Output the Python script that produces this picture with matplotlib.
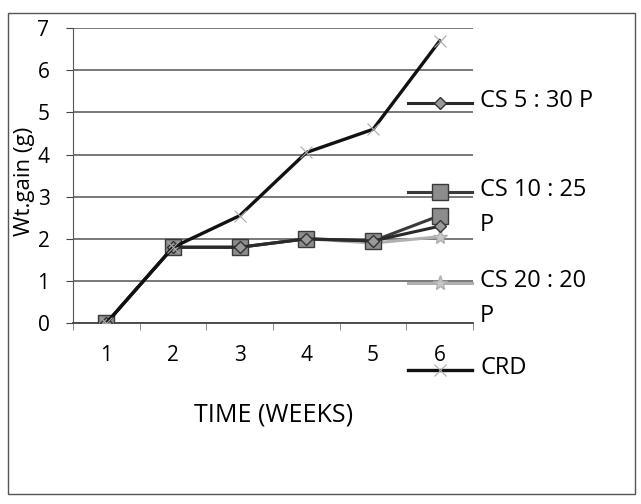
import matplotlib.pyplot as plt
from matplotlib.lines import Line2D
from matplotlib.patches import Rectangle

plt.rcParams['font.family'] = ['Open Sans', 'DejaVu Sans']

semanas = [1, 2, 3, 4, 5, 6]
etiquetas_x = ['1', '2', '3', '4', '5', '6']

cs5_30 = [0, 1.8, 1.8, 2.0, 1.95, 2.3]
cs10_25 = [0, 1.8, 1.8, 2.0, 1.95, 2.55]
cs20_20 = [0, 1.8, 1.8, 2.0, 1.9, 2.05]
crd = [0, 1.8, 2.55, 4.05, 4.6, 6.7]

nombres = ['CS 5 : 30 P', 'CS 10 : 25\nP', 'CS 20 : 20\nP', 'CRD']

fig = plt.figure(figsize=(6.41, 5.04), dpi=100)
ax = fig.add_axes([0.114, 0.359, 0.624, 0.585])

# estilos de cada serie
estilos = [
    dict(color='#2a2a2a', lw=2.2, marker='D', ms=6, mfc='#9a9a9a', mec='#333333', zorder=4),
    dict(color='#3a3a3a', lw=2.2, marker='s', ms=11, mfc='#8c8c8c', mec='#3a3a3a', zorder=3),
    dict(color='#b0b0b0', lw=2.2, marker='*', ms=11, mfc='#c8c8c8', mec='#b0b0b0', zorder=2),
    dict(color='#111111', lw=2.4, marker='x', ms=9, mec='#aaaaaa', mew=0.8, zorder=5),
]

series = [cs5_30, cs10_25, cs20_20, crd]
for datos, est in zip(series, estilos):
    ax.plot(semanas, datos, **est)

ax.set_xlim(0.5, 6.5)
ax.set_ylim(0, 7)
ax.set_yticks(range(0, 8))
ax.set_xticks(semanas)
ax.set_xticklabels(etiquetas_x)
ax.set_xticks([0.5 + i for i in range(7)], minor=True)
ax.tick_params(axis='x', which='major', length=0, pad=16, labelsize=15)
ax.tick_params(axis='x', which='minor', length=5, color='#777777', direction='out')
ax.tick_params(axis='y', length=5, color='#444444', labelsize=15, pad=12)
ax.grid(axis='y', color='#555555', lw=1.1)
for lado in ['top', 'right']:
    ax.spines[lado].set_visible(False)
ax.spines['left'].set_color('#555555')
ax.spines['bottom'].set_color('#444444')
ax.spines['bottom'].set_linewidth(1.3)

ax.set_xlabel('TIME (WEEKS)', fontsize=18, labelpad=26)
ax.set_ylabel('Wt.gain (g)', fontsize=16)
ax.yaxis.set_label_coords(-0.095, 0.48)

# leyenda a la derecha
pos_y = [103, 192, 283, 370]
for nombre, est, y in zip(nombres, estilos, pos_y):
    yf = 1 - y / 504
    kw = {k: v for k, v in est.items() if k != 'zorder'}
    linea = Line2D([408 / 641, 440 / 641, 472 / 641], [yf, yf, yf],
                   transform=fig.transFigure, markevery=[1], **kw)
    fig.add_artist(linea)
    fig.text(480 / 641, yf + 0.027, nombre, fontsize=17, va='top', ha='left',
             linespacing=1.6)

fig.add_artist(Rectangle((0.012, 0.02), 0.978, 0.955, transform=fig.transFigure,
                         fill=False, ec='#555555', lw=1.0))

fig.savefig('out.png', dpi=100)
